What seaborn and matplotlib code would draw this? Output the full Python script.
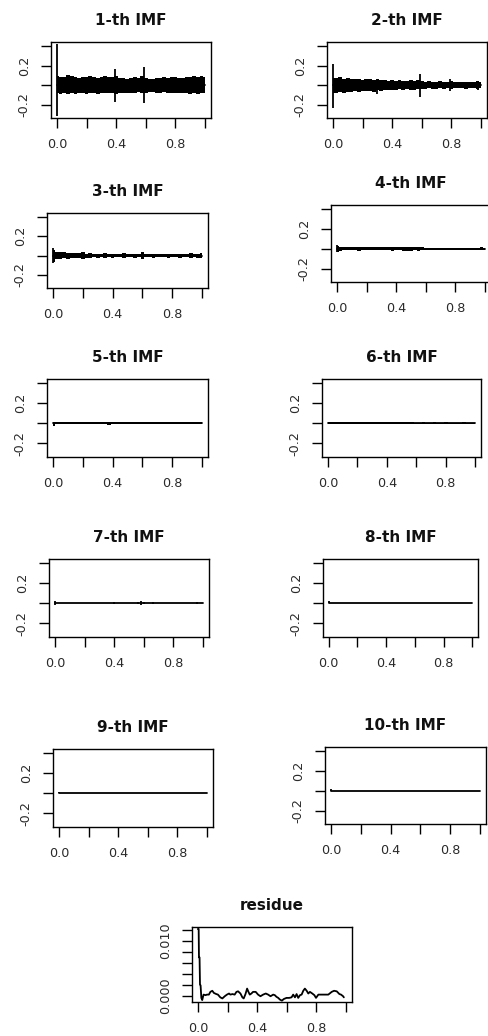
import numpy as np
import pandas as pd
import matplotlib
matplotlib.use("Agg")
import matplotlib.pyplot as plt
import seaborn as sns

# ---------------- data ----------------
env_x = [0.000, 0.025, 0.050, 0.075, 0.100, 0.125, 0.150, 0.175, 0.200, 0.225,
         0.250, 0.275, 0.300, 0.325, 0.350, 0.375, 0.400, 0.425, 0.450, 0.475,
         0.500, 0.525, 0.550, 0.575, 0.600, 0.625, 0.650, 0.675, 0.700, 0.725,
         0.750, 0.775, 0.800, 0.825, 0.850, 0.875, 0.900, 0.925, 0.950, 0.975, 1.000]

imf1_up = [0.09, 0.08, 0.085, 0.10, 0.095, 0.08, 0.075, 0.085, 0.08, 0.09, 0.085, 0.075, 0.08, 0.09,
           0.08, 0.085, 0.09, 0.075, 0.07, 0.065, 0.07, 0.08, 0.075, 0.09, 0.07, 0.065, 0.06, 0.07,
           0.075, 0.08, 0.07, 0.08, 0.085, 0.075, 0.07, 0.08, 0.085, 0.09, 0.085, 0.09, 0.085]
imf1_lo = [-0.085, -0.09, -0.08, -0.09, -0.085, -0.095, -0.08, -0.085, -0.09, -0.08, -0.085, -0.09,
           -0.08, -0.075, -0.085, -0.08, -0.09, -0.085, -0.08, -0.075, -0.08, -0.085, -0.07, -0.075,
           -0.08, -0.065, -0.07, -0.075, -0.08, -0.07, -0.075, -0.08, -0.085, -0.075, -0.08, -0.085,
           -0.09, -0.085, -0.09, -0.085, -0.08]
imf1_spk_x = [0.0, 0.39, 0.585]
imf1_spk_lo = [-0.31, -0.175, -0.18]
imf1_spk_hi = [0.42, 0.165, 0.19]

imf2_up = [0.075, 0.07, 0.08, 0.065, 0.075, 0.06, 0.065, 0.06, 0.055, 0.065, 0.06, 0.05, 0.06, 0.055,
           0.05, 0.045, 0.055, 0.04, 0.05, 0.045, 0.04, 0.05, 0.045, 0.05, 0.04, 0.035, 0.04, 0.03,
           0.035, 0.04, 0.03, 0.035, 0.045, 0.03, 0.035, 0.03, 0.035, 0.03, 0.035, 0.04, 0.03]
imf2_lo = [-0.08, -0.075, -0.07, -0.075, -0.065, -0.07, -0.06, -0.065, -0.06, -0.055, -0.06, -0.065,
           -0.05, -0.055, -0.05, -0.045, -0.05, -0.045, -0.04, -0.05, -0.04, -0.045, -0.05, -0.04,
           -0.035, -0.04, -0.03, -0.035, -0.04, -0.03, -0.035, -0.03, -0.04, -0.03, -0.025, -0.03,
           -0.035, -0.025, -0.03, -0.035, -0.03]
imf2_spk_x = [0.0, 0.295, 0.585, 0.79, 0.98]
imf2_spk_lo = [-0.23, -0.09, -0.125, -0.06, -0.05]
imf2_spk_hi = [0.22, 0.06, 0.115, 0.06, 0.045]

imf3_up = [0.06, 0.04, 0.035, 0.035, 0.03, 0.03, 0.025, 0.03, 0.04, 0.02, 0.025, 0.015, 0.02, 0.012,
           0.025, 0.012, 0.02, 0.012, 0.015, 0.025, 0.012, 0.02, 0.015, 0.012, 0.035, 0.015, 0.012,
           0.02, 0.012, 0.015, 0.012, 0.02, 0.012, 0.012, 0.02, 0.012, 0.012, 0.025, 0.012, 0.02, 0.025]
imf3_lo = [-0.065, -0.04, -0.035, -0.03, -0.035, -0.025, -0.03, -0.025, -0.04, -0.02, -0.02, -0.015,
           -0.02, -0.012, -0.02, -0.012, -0.02, -0.012, -0.015, -0.02, -0.012, -0.015, -0.02, -0.012,
           -0.035, -0.012, -0.015, -0.02, -0.012, -0.012, -0.015, -0.02, -0.012, -0.012, -0.02,
           -0.012, -0.012, -0.02, -0.012, -0.02, -0.025]
imf3_spk_x = [0.0, 0.6]
imf3_spk_lo = [-0.08, -0.035]
imf3_spk_hi = [0.075, 0.04]

imf4_up = [0.03, 0.018, 0.015, 0.02, 0.015, 0.014, 0.02, 0.015, 0.014, 0.02, 0.014, 0.015, 0.02,
           0.014, 0.015, 0.02, 0.014, 0.015, 0.02, 0.022, 0.02, 0.018, 0.022, 0.015, 0.012, 0.01,
           0.01, 0.008, 0.01, 0.008, 0.01, 0.008, 0.01, 0.008, 0.01, 0.008, 0.012, 0.008, 0.01,
           0.015, 0.01]
imf4_lo = [-0.03, -0.018, -0.015, -0.012, -0.015, -0.012, -0.018, -0.012, -0.014, -0.015, -0.012,
           -0.014, -0.015, -0.012, -0.014, -0.018, -0.012, -0.014, -0.018, -0.02, -0.018, -0.015,
           -0.02, -0.014, -0.01, -0.008, -0.008, -0.008, -0.008, -0.008, -0.008, -0.008, -0.01,
           -0.008, -0.008, -0.008, -0.01, -0.008, -0.008, -0.012, -0.008]
imf4_spk_x = [0.0]
imf4_spk_lo = [-0.035]
imf4_spk_hi = [0.04]

imf5_up = [0.01, 0.01, 0.012, 0.01, 0.01, 0.012, 0.01, 0.01, 0.01, 0.012, 0.01, 0.01, 0.01, 0.01,
           0.012, 0.01, 0.012, 0.01, 0.01, 0.01, 0.01, 0.01, 0.01, 0.01, 0.01, 0.01, 0.008, 0.008,
           0.01, 0.008, 0.008, 0.01, 0.008, 0.008, 0.01, 0.008, 0.008, 0.01, 0.008, 0.008, 0.008]
imf5_lo = [-0.025, -0.01, -0.01, -0.012, -0.01, -0.01, -0.01, -0.012, -0.01, -0.01, -0.01, -0.01,
           -0.01, -0.012, -0.01, -0.015, -0.01, -0.012, -0.01, -0.01, -0.01, -0.01, -0.01, -0.01,
           -0.01, -0.008, -0.008, -0.01, -0.008, -0.008, -0.01, -0.008, -0.008, -0.01, -0.008,
           -0.008, -0.01, -0.008, -0.008, -0.008, -0.008]

imf6_up = [0.008, 0.01, 0.008, 0.01, 0.008, 0.01, 0.008, 0.01, 0.008, 0.008, 0.01, 0.008, 0.01,
           0.008, 0.008, 0.01, 0.008, 0.008, 0.01, 0.008, 0.008, 0.01, 0.008, 0.008, 0.006, 0.006,
           0.008, 0.006, 0.006, 0.008, 0.006, 0.006, 0.008, 0.006, 0.006, 0.006, 0.006, 0.012,
           0.006, 0.006, 0.006]
imf6_lo = [-0.008, -0.008, -0.01, -0.008, -0.008, -0.01, -0.008, -0.008, -0.01, -0.008, -0.008,
           -0.01, -0.008, -0.008, -0.01, -0.008, -0.008, -0.01, -0.008, -0.008, -0.01, -0.008,
           -0.008, -0.008, -0.006, -0.006, -0.008, -0.006, -0.006, -0.008, -0.006, -0.006, -0.008,
           -0.006, -0.006, -0.006, -0.006, -0.01, -0.006, -0.006, -0.006]

flat_x = [0.0, 1.0]
flat_y = [0.0, 0.0]
imf7_spk_x = [0.0, 0.40, 0.56, 0.58, 0.60, 0.66, 0.96]
imf7_spk_lo = [-0.02, -0.01, -0.012, -0.015, -0.012, -0.01, -0.01]
imf7_spk_hi = [0.02, 0.012, 0.015, 0.02, 0.015, 0.012, 0.015]
imf8_spk_x = [0.0]
imf8_spk_lo = [0.0]
imf8_spk_hi = [0.02]
imf9_spk_x = [0.0]
imf9_spk_lo = [0.0]
imf9_spk_hi = [0.012]
imf10_spk_x = [0.0]
imf10_spk_lo = [0.0]
imf10_spk_hi = [0.015]

res_x = [0.000, 0.005, 0.007, 0.011, 0.014, 0.018, 0.023, 0.029, 0.038, 0.052, 0.061, 0.074,
         0.084, 0.097, 0.108, 0.124, 0.135, 0.151, 0.165, 0.181, 0.196, 0.210, 0.219, 0.233,
         0.248, 0.260, 0.271, 0.287, 0.300, 0.309, 0.321, 0.332, 0.341, 0.350, 0.361, 0.372,
         0.390, 0.406, 0.422, 0.440, 0.458, 0.474, 0.490, 0.508, 0.519, 0.530, 0.542, 0.553,
         0.567, 0.580, 0.598, 0.616, 0.632, 0.643, 0.655, 0.666, 0.677, 0.689, 0.700, 0.711,
         0.722, 0.734, 0.745, 0.756, 0.772, 0.786, 0.797, 0.813, 0.835, 0.858, 0.880, 0.903,
         0.919, 0.937, 0.955, 0.966, 0.980, 0.985]
res_y = [0.0122, 0.0122, 0.0070, 0.0070, 0.0020, 0.0019, -0.0004, -0.0008, 0.0002, 0.0001,
         0.0002, 0.0002, 0.0007, 0.0009, 0.0005, 0.0003, 0.0002, -0.0003, -0.0005, -0.0001,
         0.0002, 0.0004, 0.0002, 0.0003, 0.0002, 0.0007, 0.0008, 0.0004, -0.0003, -0.0005,
         0.0003, 0.0013, 0.0007, 0.0002, 0.0004, 0.0007, 0.0007, 0.0002, -0.0001, 0.0002,
         0.0004, 0.0002, -0.0001, 0.0002, 0.0001, -0.0002, -0.0004, -0.0007, -0.0009, -0.0006,
         -0.0004, -0.0004, -0.0003, 0.0002, -0.0003, 0.0003, -0.0004, 0.0001, 0.0002, 0.0009,
         0.0013, 0.0009, 0.0004, 0.0007, 0.0004, 0.0001, -0.0004, 0.0002, 0.0002, 0.0002,
         0.0002, 0.0007, 0.0009, 0.0008, 0.0003, 0.0002, -0.0001, -0.0003]

titles = ["1-th IMF", "2-th IMF", "3-th IMF", "4-th IMF", "5-th IMF",
          "6-th IMF", "7-th IMF", "8-th IMF", "9-th IMF", "10-th IMF"]
x_ticks = [0.0, 0.2, 0.4, 0.6, 0.8, 1.0]
x_ticklabels = ["0.0", "", "0.4", "", "0.8", ""]
imf_yticks = [-0.2, 0.0, 0.2, 0.4]
imf_yticklabels = ["-0.2", "", "0.2", ""]
res_yticks = [0.0, 0.002, 0.004, 0.006, 0.008, 0.010, 0.012]
res_yticklabels = ["0.000", "", "", "", "", "0.010", ""]

# ---------------- style / layout ----------------
sns.set_style("ticks")
plt.rcParams["font.family"] = ["DejaVu Sans"]

W, H = 488, 1036
fig = plt.figure(figsize=(W / 100, H / 100), dpi=100)
fig.patch.set_facecolor("white")

# panel boxes in pixels: left, top, right, bottom
boxes = [(51, 42, 211, 118), (327, 42, 487, 118),
         (47, 213, 208, 288), (331, 205, 491, 282),
         (47, 379, 208, 457), (322, 379, 481, 457),
         (49, 559, 209, 637), (323, 559, 478, 637),
         (53, 749, 213, 827), (325, 747, 486, 824)]
res_box = (192, 927, 352, 1002)

TXT = "#2a2a2a"


def make_ax(box):
    l, t, r, b = box
    ax = fig.add_axes([l / W, 1 - b / H, (r - l) / W, (b - t) / H])
    ax.set_facecolor("white")
    for s in ax.spines.values():
        s.set_visible(True)
        s.set_linewidth(1.0)
        s.set_color("black")
    ax.tick_params(direction="out", length=7, width=1.0, pad=7.5,
                   labelsize=9.2, labelcolor=TXT, color="black")
    ax.set_xlim(-0.04, 1.04)
    ax.set_xticks(x_ticks)
    ax.set_xticklabels(x_ticklabels)
    ax.set_xlabel("")
    ax.set_ylabel("")
    return ax


bands = [(imf1_up, imf1_lo, imf1_spk_x, imf1_spk_lo, imf1_spk_hi),
         (imf2_up, imf2_lo, imf2_spk_x, imf2_spk_lo, imf2_spk_hi),
         (imf3_up, imf3_lo, imf3_spk_x, imf3_spk_lo, imf3_spk_hi),
         (imf4_up, imf4_lo, imf4_spk_x, imf4_spk_lo, imf4_spk_hi),
         (imf5_up, imf5_lo, [], [], []),
         (imf6_up, imf6_lo, [], [], []),
         (None, None, imf7_spk_x, imf7_spk_lo, imf7_spk_hi),
         (None, None, imf8_spk_x, imf8_spk_lo, imf8_spk_hi),
         (None, None, imf9_spk_x, imf9_spk_lo, imf9_spk_hi),
         (None, None, imf10_spk_x, imf10_spk_lo, imf10_spk_hi)]

for i, (box, title, band) in enumerate(zip(boxes, titles, bands)):
    ax = make_ax(box)
    up, lo, sx, slo, shi = band
    sns.lineplot(x=flat_x, y=flat_y, ax=ax, color="black", lw=1.3, estimator=None)
    if up is not None:
        ax.fill_between(env_x, lo, up, step="mid", color="black", lw=0)
    if len(sx):
        ax.vlines(sx, slo, shi, color="black", lw=1.3)
    ax.set_ylim(-0.335, 0.44)
    ax.set_yticks(imf_yticks)
    ax.set_yticklabels(imf_yticklabels, rotation=90, va="center")
    ax.set_title(title, fontweight="bold", fontsize=11, pad=12, color="#111111")

# residue
ax = make_ax(res_box)
sns.lineplot(x=res_x, y=res_y, ax=ax, color="black", lw=1.3, estimator=None, sort=False)
ax.set_ylim(-0.00115, 0.01255)
ax.set_yticks(res_yticks)
ax.set_yticklabels(res_yticklabels, rotation=90, va="center")
ax.set_xlabel("")
ax.set_ylabel("")
ax.set_title("residue", fontweight="bold", fontsize=11, pad=12, color="#111111")

fig.savefig("out.png", dpi=100, facecolor="white")
